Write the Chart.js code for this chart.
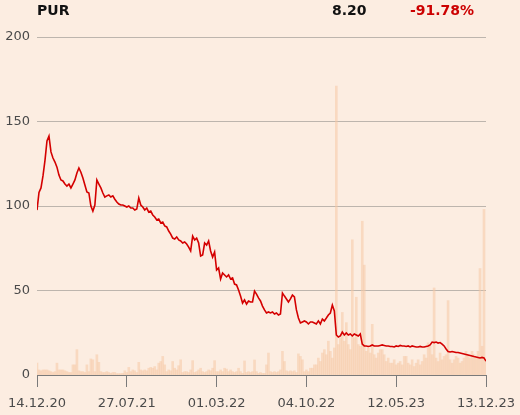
<!DOCTYPE html>
<html>
<head>
<meta charset="utf-8">
<script src="https://cdn.jsdelivr.net/npm/chart.js@4"></script>
<style>
  html, body { margin: 0; padding: 0; background: #fcede1; }
  #wrap { position: relative; width: 520px; height: 415px; }
  .head { position: absolute; top: 2px; font: bold 14px "DejaVu Sans", sans-serif; color: #111; }
  #name { left: 37px; }
  #last { left: 332px; }
  #chg { left: 410px; color: #cc0000; }
</style>
</head>
<body>
<div id="wrap">
  <canvas id="chart" width="520" height="415"></canvas>
  <div class="head" id="name">PUR</div>
  <div class="head" id="last">8.20</div>
  <div class="head" id="chg">-91.78%</div>
</div>
<script>
// tick labels on the time axis (every 45th sample)
const dateLabels = ['14.12.20', '27.07.21', '01.03.22', '04.10.22', '12.05.23', '13.12.23']
const labelStep = 45

// closing price, sampled evenly from start to end
const price = [
  97.6, 108, 110.7, 117.8, 127, 138.5, 141.4, 132, 128.4, 126,
  123, 118.3, 115.4, 114.8, 113, 111.8, 113, 110.7, 113, 115.4,
  119.5, 122.5, 120, 116.6, 112.4, 108.3, 107.7, 100, 97, 100.6,
  115.4, 113, 110.7, 107.7, 105.3, 106, 106.5, 105.3, 106, 104,
  102.4, 101.2, 100.6, 100.6, 100, 99.4, 100, 98.8, 98.8, 97.6,
  98.2, 104.7, 100.6, 99.4, 97.6, 98.8, 96.4, 97, 94.7, 93.5,
  91.7, 92.3, 90, 90.5, 88.2, 87.6, 85.2, 83.4, 81, 80.5,
  81.7, 79.9, 79.3, 78.1, 78.7, 77.5, 75.7, 73.4, 82.2, 79.9,
  81, 78.1, 70.4, 71, 78.1, 76.9, 79.3, 73.4, 69.8, 72.8,
  62.1, 63.3, 56.8, 60.4, 59.2, 58, 59.2, 56.8, 57.4, 53.8,
  53.3, 50.3, 46.7, 42.6, 44.4, 42, 43.8, 43.2, 43.2, 49.7,
  47.9, 45.6, 43.8, 40.8, 38.5, 36.7, 37.3, 36.7, 37.3, 36.1,
  36.7, 35.5, 36.1, 48.5, 46.7, 45, 43.2, 45, 47.3, 46.2,
  38.5, 33.7, 30.8, 31.4, 32, 31.4, 30.2, 31.4, 31.4, 30.8,
  30.2, 32, 30.2, 33.1, 32, 33.7, 35.5, 36.7, 41.4, 37.9,
  23.7, 22.5, 23.1, 25.4, 23.7, 24.9, 23.7, 24.3, 23.1, 24.3,
  23.7, 23.1, 24.3, 18.3, 17.2, 17.2, 16.9, 17.2, 17.8, 17.2,
  17.2, 17.2, 17.5, 17.8, 17.5, 17.2, 17.2, 16.9, 16.9, 16.6,
  17.2, 16.9, 17.5, 17.2, 17.2, 16.9, 17.2, 16.6, 17.2, 16.9,
  16.6, 16.6, 16.9, 16.6, 16.6, 16.9, 17.2, 17.8, 19.5, 19.2,
  19.5, 18.9, 19.2, 18.3, 17.2, 15.4, 13.9, 13.6, 13.9, 13.6,
  13.3, 13.3, 13, 12.7, 12.4, 12.1, 11.8, 11.5, 11.2, 10.9,
  10.7, 10.4, 10.1, 10.4, 10.1, 8.2
]

// traded volume (thousands), same samples
const volume = [
  7, 3, 2.5, 3, 3, 3, 2.5, 2, 1.5, 2,
  7, 3, 3, 3, 2.5, 2, 1.5, 1.5, 6, 6,
  15, 2.5, 2, 2, 1.5, 6, 2, 9.5, 9, 2,
  12, 7.5, 2, 1.5, 1.5, 2, 1.5, 1, 1.5, 1.5,
  0.8, 0.8, 0.8, 1, 2.5, 1.5, 4.5, 2, 3, 2.5,
  1.5, 7.5, 3, 2.5, 3, 2.5, 4, 4.5, 4, 5,
  3, 7, 8, 11, 6, 2, 3, 2.5, 8, 4,
  3, 5.5, 9, 1.5, 2, 2, 1.5, 3, 8.5, 1.5,
  2, 3, 4, 2, 1.5, 2, 3, 2.5, 4, 8.5,
  2, 2, 3, 2, 4, 3.5, 2, 3, 2, 1.5,
  2, 4, 2, 1, 8.3, 1.5, 2, 1.5, 2, 8.9,
  2, 1, 1.5, 1, 1, 6, 13, 2, 1.5, 2,
  1.5, 2, 3, 14, 8, 2.5, 2, 2.5, 2, 2.5,
  1.5, 12.5, 11, 9, 2, 3, 2, 4, 4, 6,
  6, 10, 8, 13, 15, 12, 20, 14, 10, 16,
  171, 18, 22, 37, 20, 31, 18, 15, 80, 22,
  46, 18, 17, 91, 65, 14, 16, 13, 30, 12,
  10, 13, 15, 15, 12, 8, 10, 7, 7, 9,
  6, 7, 8, 6, 11, 11, 7, 6, 9, 5,
  7, 9, 6, 8, 12, 10, 19, 17, 12, 51.5,
  10, 8, 13, 9, 11, 12, 44, 9, 7, 9,
  11, 10, 7, 8, 10, 14, 12, 10, 14, 12,
  10, 14, 63, 17, 98, 8
]

const priceTicks = { min: 0, max: 200, step: 50 }

const priceData = price.map((v, i) => ({ x: i, y: v }))
const volumeData = volume.map((v, i) => ({ x: i, y: v }))

const tickFont = { family: 'DejaVu Sans', size: 13 }

new Chart(document.getElementById('chart'), {
  data: {
    datasets: [{
      type: 'line',
      data: priceData,
      borderColor: '#d40000',
      borderWidth: 1.6,
      pointRadius: 0,
      tension: 0,
      yAxisID: 'y',
      order: 0
    },
    {
      type: 'bar',
      data: volumeData,
      backgroundColor: 'rgba(245, 200, 165, 0.55)',
      barPercentage: 1,
      categoryPercentage: 1,
      yAxisID: 'vol',
      order: 1
    }]
  },
  options: {
    responsive: false,
    animation: false,
    layout: { padding: { top: 37, right: 34, left: 0, bottom: 0 } },
    plugins: { legend: { display: false }, tooltip: { enabled: false } },
    scales: {
      x: {
        type: 'linear',
        min: 0,
        max: price.length - 1,
        offset: false,
        afterFit: s => {
          s.height = 40
          s.paddingLeft = 0
          s.paddingRight = 0
        },
        afterBuildTicks: s => {
          s.ticks = dateLabels.map((_, i) => ({ value: i * labelStep }))
        },
        ticks: {
          callback: v => dateLabels[Math.round(v / labelStep)],
          font: tickFont,
          color: '#4a4a4a',
          maxRotation: 0,
          autoSkip: false,
          padding: 9
        },
        grid: { offset: false, drawOnChartArea: false, drawTicks: true, tickLength: 12, color: '#7a7a7a' },
        border: { display: true, color: '#7a7a7a' }
      },
      y: {
        min: priceTicks.min,
        max: priceTicks.max,
        afterFit: s => {
          s.width = 37
          s.paddingTop = 0
          s.paddingBottom = 0
        },
        ticks: { stepSize: priceTicks.step, font: tickFont, color: '#4a4a4a', padding: 7 },
        grid: { color: '#bdb5ad', drawTicks: false },
        border: { display: false }
      },
      vol: {
        display: false,
        min: 0,
        max: 200
      }
    }
  }
})
</script>
</body>
</html>
